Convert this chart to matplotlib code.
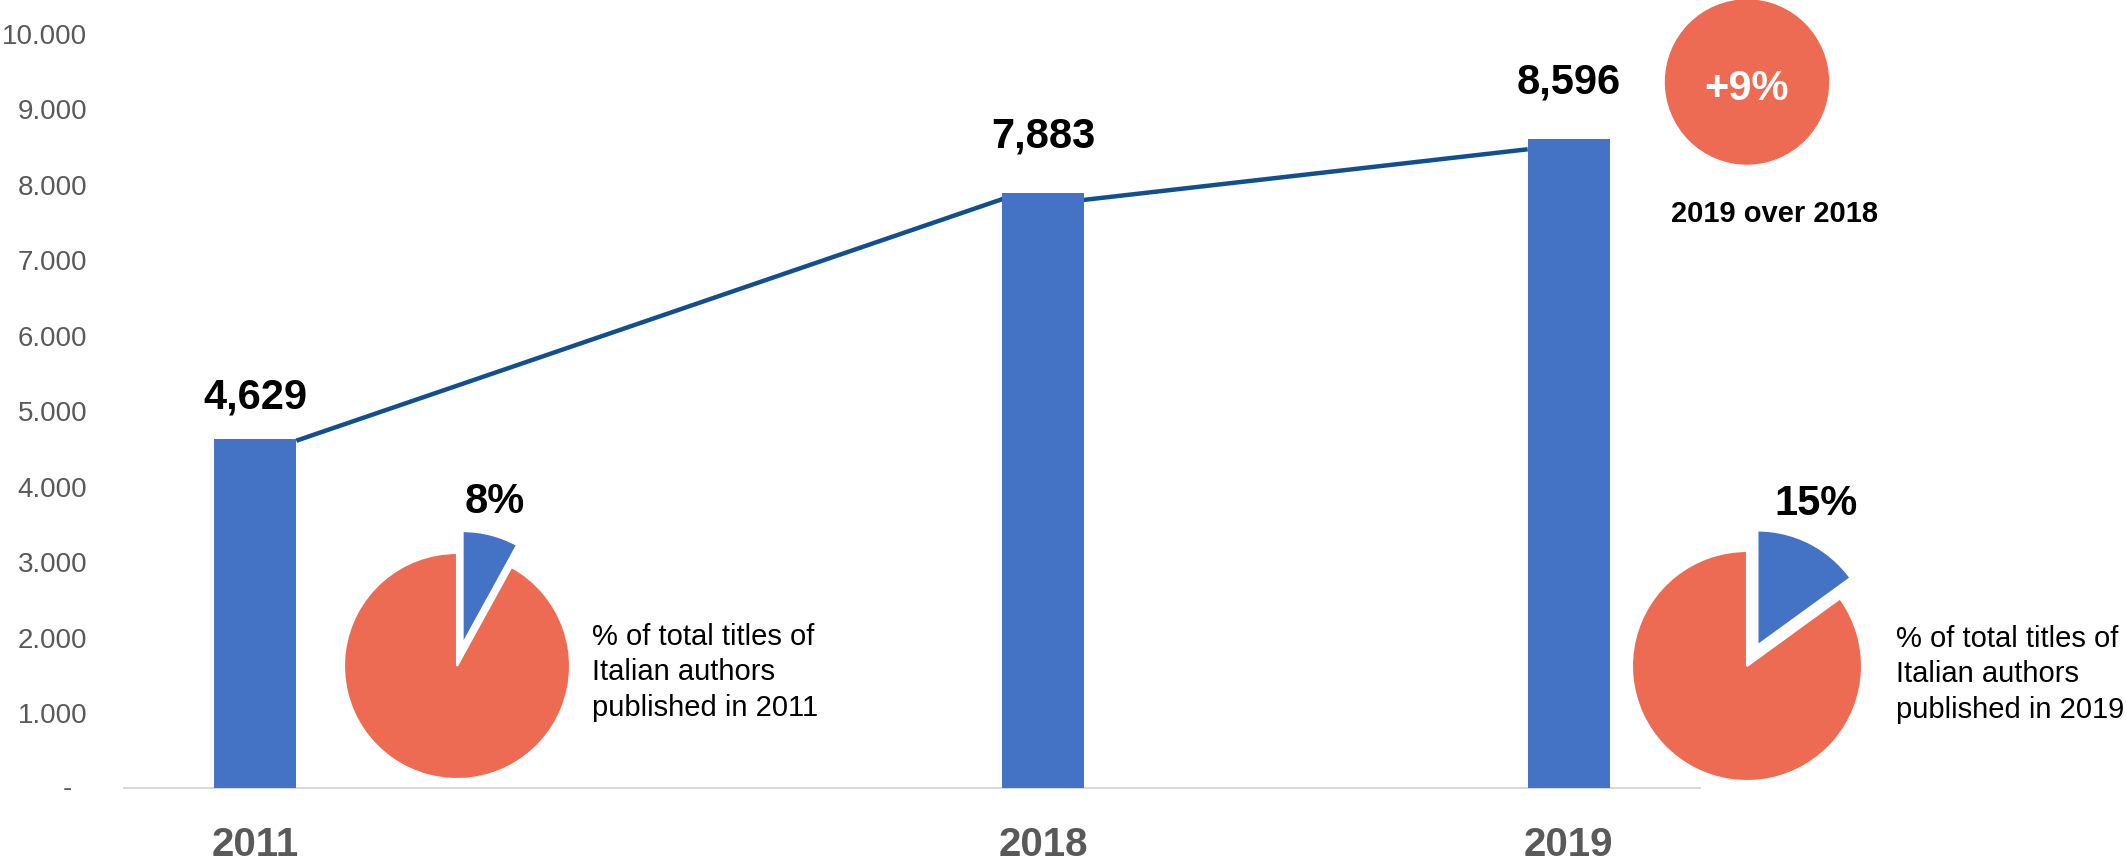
import matplotlib
matplotlib.use("Agg")
import matplotlib.pyplot as plt
from matplotlib.patches import Ellipse
from matplotlib.ticker import FuncFormatter

plt.rcParams['font.family'] = ['Liberation Sans', 'DejaVu Sans']

# data
years = ['2011', '2018', '2019']
titles = [4629, 7883, 8596]
trend_vals = [4600, 7800, 7790, 8460]   # line between bar corners
share_2011 = [8, 92]
share_2019 = [15, 85]
share_labels = ['8%', '15%']
growth_label = '+9%'
growth_note = '2019 over 2018'
pie_note = '% of total titles of\nItalian authors\npublished in {}'

BLUE = '#4472C4'
ORANGE = '#ED6B53'
LINE = '#124F8E'
GREY = '#595959'

W, H = 2126, 862
fig = plt.figure(figsize=(W / 100, H / 100), dpi=100)


def fx(px):
    return px / W


def fy(py):
    return 1 - py / H


# main axes, categories sit in slots 0, 3 and 5 of a 6-slot axis
slots = [0, 3, 5]
ax = fig.add_axes([fx(124), fy(789), fx(1700) - fx(124), fy(34) - fy(789)])
bw = 0.312
ax.bar(slots, titles, width=bw, color=BLUE, zorder=3)
hw = bw / 2
line_x = [slots[0] + hw, slots[1] - hw, slots[1] + hw, slots[2] - hw]
ax.plot(line_x, trend_vals, color=LINE, lw=3.2, zorder=2, solid_capstyle='butt')

gaps = [31, 46, 47]
for x, v, g in zip(slots, titles, gaps):
    ax.annotate(f'{v:,}', (x, v), xytext=(0, g), textcoords='offset pixels',
                ha='center', va='baseline', fontsize=30, fontweight='bold')

ax.set_xlim(-0.5, 5.5)
ax.set_ylim(0, 10000)
ax.set_xticks(slots, years)
ax.set_yticks(range(0, 10001, 1000))
ax.yaxis.set_major_formatter(FuncFormatter(
    lambda v, p: '' if v == 0 else f'{v:,.0f}'.replace(',', '.')))
ax.tick_params(axis='x', length=0, pad=26.6, labelsize=29, labelcolor=GREY)
ax.tick_params(axis='y', length=0, pad=26.6, labelsize=20, labelcolor=GREY)
for t in ax.get_xticklabels():
    t.set_fontweight('bold')
for s in ['top', 'right', 'left']:
    ax.spines[s].set_visible(False)
ax.spines['bottom'].set_color('#D9D9D9')
ax.spines['bottom'].set_linewidth(1.5)
fig.text(fx(72), fy(789), '-', ha='right', va='center', fontsize=20, color=GREY)


def add_pie(cx, cy, r, vals):
    size = 2.5 * r
    pax = fig.add_axes([fx(cx - size / 2), fy(cy + size / 2), size / W, size / H])
    pax.pie(vals, colors=[BLUE, ORANGE], startangle=90, counterclock=False,
            explode=[0.2, 0], wedgeprops=dict(edgecolor='white', linewidth=1.5))
    pax.set_xlim(-1.25, 1.25)
    pax.set_ylim(-1.25, 1.25)
    return pax


add_pie(457, 667, 113, share_2011)
add_pie(1747, 667, 115, share_2019)

fig.text(fx(495), fy(513), share_labels[0], ha='center', va='baseline',
         fontsize=30, fontweight='bold')
fig.text(fx(1816), fy(515), share_labels[1], ha='center', va='baseline',
         fontsize=30, fontweight='bold')
fig.text(fx(592), fy(623), pie_note.format(years[0]), ha='left', va='top',
         fontsize=21, linespacing=1.33)
fig.text(fx(1896), fy(625), pie_note.format(years[2]), ha='left', va='top',
         fontsize=21, linespacing=1.33)

# growth bubble
fig.add_artist(Ellipse((fx(1747), fy(83)), 163 / W, 164 / H,
                       transform=fig.transFigure, color=ORANGE))
fig.text(fx(1747), fy(100), growth_label, ha='center', va='baseline',
         fontsize=30, fontweight='bold', color='white')
fig.text(fx(1671), fy(222), growth_note, ha='left', va='baseline',
         fontsize=21, fontweight='bold')

fig.savefig('out.png', dpi=100)
